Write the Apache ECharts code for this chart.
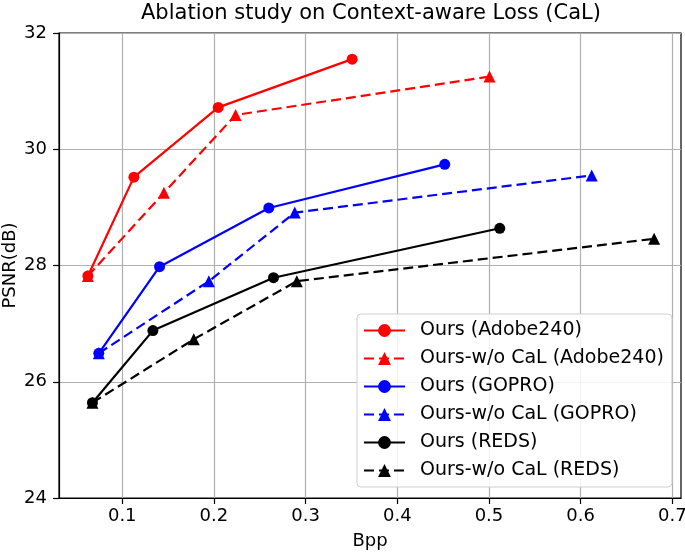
<!DOCTYPE html>
<html>
<head>
<meta charset="utf-8">
<script src="https://cdn.jsdelivr.net/npm/echarts@6/dist/echarts.min.js"></script>
<style>
  html, body { margin: 0; padding: 0; background: #fff; }
  #chart { width: 685px; height: 552px; }
</style>
</head>
<body>
<div id="chart"></div>
<script>
// values
const xTicks = [0.1, 0.2, 0.3, 0.4, 0.5, 0.6, 0.7];
const yTicks = [24, 26, 28, 30, 32];

const adobeOursBpp  = [0.0625, 0.1127, 0.2047, 0.3508];
const adobeOursPsnr = [27.82, 29.52, 30.72, 31.55];
const adobeWoBpp    = [0.0625, 0.1454, 0.2236, 0.5006];
const adobeWoPsnr   = [27.82, 29.25, 30.59, 31.25];

const goproOursBpp  = [0.0744, 0.1407, 0.2599, 0.4518];
const goproOursPsnr = [26.49, 27.98, 28.99, 29.74];
const goproWoBpp    = [0.0744, 0.1945, 0.2882, 0.6121];
const goproWoPsnr   = [26.49, 27.73, 28.91, 29.55];

const redsOursBpp   = [0.0675, 0.1334, 0.2650, 0.5118];
const redsOursPsnr  = [25.64, 26.88, 27.79, 28.64];
const redsWoBpp     = [0.0675, 0.1780, 0.2904, 0.6802];
const redsWoPsnr    = [25.64, 26.73, 27.73, 28.46];

const names = [
  'Ours (Adobe240)', 'Ours-w/o CaL (Adobe240)',
  'Ours (GOPRO)', 'Ours-w/o CaL (GOPRO)',
  'Ours (REDS)', 'Ours-w/o CaL (REDS)',
];

const FONT = 'DejaVu Sans';
const zip = (xs, ys) => xs.map((x, i) => [x, ys[i]]);

function mkSeries(name, xs, ys, color, dashed) {
  return {
    name, type: 'line',
    data: zip(xs, ys),
    symbol: dashed ? 'triangle' : 'circle',
    symbolSize: dashed ? 12 : 11,
    itemStyle: { color },
    lineStyle: { color, width: 2.2, type: dashed ? [10, 5] : 'solid' },
    animation: false,
  };
}

const chart = echarts.init(document.getElementById('chart'));
chart.setOption({
  backgroundColor: '#fff',
  animation: false,
  textStyle: { fontFamily: FONT },
  title: {
    text: 'Ablation study on Context-aware Loss (CaL)',
    left: 141, top: 3,
    padding: 0,
    textStyle: { fontFamily: FONT, fontSize: 21, fontWeight: 'normal', color: '#000' },
  },
  grid: {
    left: 59, right: 4, top: 33, bottom: 54,
    outerBoundsMode: 'none',
    show: true, borderColor: '#000', borderWidth: 1.2,
  },
  legend: {
    orient: 'vertical',
    left: 357, top: 314,
    padding: [7, 8, 7, 6],
    itemWidth: 41, itemHeight: 16, itemGap: 9,
    backgroundColor: 'rgba(255,255,255,0.85)',
    borderColor: '#d0d0d0', borderWidth: 1, borderRadius: 4,
    textStyle: { fontFamily: FONT, fontSize: 19, color: '#000', padding: [0, 0, 0, 10] },
    data: names,
  },
  xAxis: {
    type: 'value', min: 0.031, max: 0.7095,
    name: 'Bpp', nameLocation: 'middle', nameGap: 34, nameMoveOverlap: false,
    nameTextStyle: { fontFamily: FONT, fontSize: 18, color: '#000' },
    axisLine: { show: true, lineStyle: { color: '#000', width: 1.2 } },
    axisTick: { show: true, length: 6, customValues: xTicks, lineStyle: { color: '#000', width: 1.2 } },
    axisLabel: { customValues: xTicks, margin: 9, fontSize: 18, color: '#000', formatter: v => v.toFixed(1) },
    splitLine: { show: true, lineStyle: { color: '#b0b0b0', width: 1.2 } },
  },
  yAxis: {
    type: 'value', min: 24, max: 32, interval: 2,
    name: 'PSNR(dB)', nameLocation: 'middle', nameGap: 40, nameMoveOverlap: false,
    nameTextStyle: { fontFamily: FONT, fontSize: 18, color: '#000' },
    axisLine: { show: true, lineStyle: { color: '#000', width: 1.2 } },
    axisTick: { show: true, length: 6, lineStyle: { color: '#000', width: 1.2 } },
    axisLabel: { margin: 12, fontSize: 18, color: '#000', formatter: v => String(v) },
    splitLine: { show: true, lineStyle: { color: '#b0b0b0', width: 1.2 } },
  },
  series: [
    mkSeries(names[0], adobeOursBpp, adobeOursPsnr, '#ff0000', false),
    mkSeries(names[1], adobeWoBpp, adobeWoPsnr, '#ff0000', true),
    mkSeries(names[2], goproOursBpp, goproOursPsnr, '#0000ff', false),
    mkSeries(names[3], goproWoBpp, goproWoPsnr, '#0000ff', true),
    mkSeries(names[4], redsOursBpp, redsOursPsnr, '#000000', false),
    mkSeries(names[5], redsWoBpp, redsWoPsnr, '#000000', true),
  ],
});
</script>
</body>
</html>
